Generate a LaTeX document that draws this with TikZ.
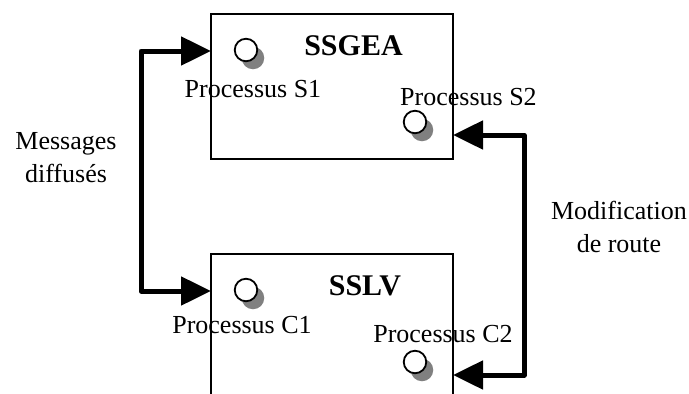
\documentclass[tikz,border=0pt]{standalone}
\usepackage{fontspec}
\setmainfont{Liberation Serif}
\usetikzlibrary{arrows.meta,shadows}
\begin{document}
\begin{tikzpicture}[x=1pt,y=-1pt,
  box/.style={draw, line width=1.3pt, inner sep=0pt},
  conn/.style={line width=5pt, line join=round,
    {Triangle[length=30pt,width=28pt]}-{Triangle[length=30pt,width=28pt]}},
  proc/.style={circle, draw, line width=1.8pt, fill=white, minimum size=22.5pt, inner sep=0pt,
    general shadow={fill=black!50, shadow xshift=7pt, shadow yshift=-8pt}},
  lbl/.style={font=\fontsize{26}{33}\selectfont, inner sep=0pt, anchor=base},
  ttl/.style={font=\fontsize{30}{36}\selectfont\bfseries, inner sep=0pt, anchor=base}]
\useasboundingbox (0,0) rectangle (689,394);
\clip (0,0) rectangle (689,394);
% boxes
\node[box, minimum width=242pt, minimum height=145pt] (ssgea) at (332,86.5) {};
\node[box, minimum width=242pt, minimum height=160pt] (sslv) at (332,334) {};
% titles
\node[ttl] (tssgea) at (353.5,55) {SSGEA};
\node[ttl] (tsslv) at (365,295) {SSLV};
% processes
\node[proc] (s1) at (246,50) {};
\node[proc] (s2) at (415,122) {};
\node[proc] (c1) at (246,290) {};
\node[proc] (c2) at (415,362) {};
\node[lbl] (ls1) at (253,97) {Processus S1};
\node[lbl] (ls2) at (468.5,105) {Processus S2};
\node[lbl] (lc1) at (242,333) {Processus C1};
\node[lbl] (lc2) at (443,342) {Processus C2};
% connector points
\coordinate (a1) at (211,51);
\coordinate (k1) at (141,51);
\coordinate (k2) at (141,291);
\coordinate (a2) at (211,291);
\coordinate (b1) at (453,135);
\coordinate (m1) at (524,135);
\coordinate (m2) at (524,375);
\coordinate (b2) at (453,375);
\draw[conn] (a1) -- (k1) -- (k2) -- (a2);
\draw[conn] (b1) -- (m1) -- (m2) -- (b2);
% labels
\node[lbl, align=center] (msg) at (66,182) {Messages\\diffusés};
\node[lbl, align=center] (mod) at (619,252) {Modification\\de route};
\end{tikzpicture}
\end{document}
